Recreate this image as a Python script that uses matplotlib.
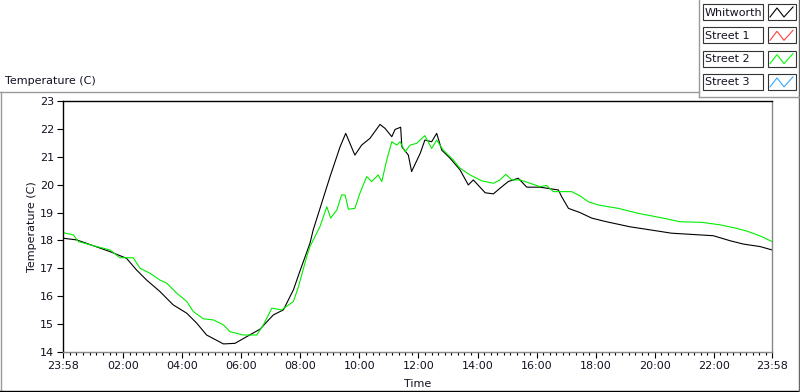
import matplotlib
matplotlib.use("Agg")
import matplotlib.pyplot as plt
from matplotlib.patches import Rectangle

# hours since 23:58
whit_t = [0, 0.46, 1.03, 1.59, 2.15, 2.49, 2.83, 3.28, 3.73, 4.19,
          4.53, 4.86, 5.43, 5.82, 6.22, 6.67, 7.12, 7.46, 7.80, 8.02,
          8.36, 8.47, 8.70, 9.04, 9.38, 9.57, 9.88, 10.11, 10.39, 10.73,
          10.90, 11.13, 11.24, 11.43, 11.47, 11.69, 11.80, 12.09, 12.25, 12.48,
          12.65, 12.82, 13.10, 13.44, 13.72, 13.89, 14.29, 14.57, 14.79, 15.07,
          15.41, 15.70, 16.15, 16.77, 16.88, 17.11, 17.50, 17.90, 18.40, 19.19,
          19.87, 20.60, 22.01, 22.58, 23.03, 23.60, 24.0]
whit_temp = [18.08, 18.02, 17.81, 17.6, 17.36, 16.94, 16.58, 16.17, 15.69, 15.39,
             15.03, 14.61, 14.29, 14.31, 14.55, 14.82, 15.33, 15.51, 16.23, 16.9,
             17.9, 18.38, 19.15, 20.29, 21.36, 21.84, 21.06, 21.42, 21.66, 22.16,
             22.02, 21.72, 21.98, 22.06, 21.36, 21.06, 20.47, 21.12, 21.6, 21.54,
             21.84, 21.24, 20.95, 20.53, 19.99, 20.17, 19.71, 19.67, 19.87, 20.11,
             20.23, 19.91, 19.91, 19.81, 19.57, 19.15, 19.0, 18.8, 18.67, 18.49,
             18.38, 18.26, 18.17, 17.99, 17.87, 17.78, 17.66]

st2_t = [0, 0.35, 0.52, 1.03, 1.59, 1.93, 2.38, 2.61, 2.95, 3.28,
         3.51, 3.85, 4.19, 4.41, 4.75, 5.09, 5.43, 5.65, 6.10, 6.56,
         6.78, 7.07, 7.40, 7.80, 7.97, 8.25, 8.36, 8.70, 8.93, 9.06,
         9.27, 9.43, 9.55, 9.66, 9.88, 10.05, 10.28, 10.45, 10.67, 10.79,
         10.96, 11.13, 11.30, 11.41, 11.58, 11.75, 11.97, 12.25, 12.48, 12.65,
         12.87, 13.21, 13.44, 13.78, 14.17, 14.57, 14.79, 14.99, 15.19, 15.47,
         15.81, 16.15, 16.37, 16.60, 17.22, 17.50, 17.78, 18.12, 18.80, 19.48,
         20.32, 20.89, 21.62, 22.24, 22.69, 23.14, 23.60, 24.0]
st2_temp = [18.28, 18.2, 17.96, 17.81, 17.66, 17.38, 17.38, 17.0, 16.82, 16.58,
            16.47, 16.11, 15.81, 15.45, 15.19, 15.15, 14.97, 14.73, 14.61, 14.61,
            14.97, 15.57, 15.51, 15.81, 16.34, 17.42, 17.78, 18.5, 19.21, 18.8,
            19.09, 19.63, 19.63, 19.12, 19.15, 19.69, 20.29, 20.11, 20.35, 20.11,
            20.89, 21.54, 21.42, 21.54, 21.18, 21.42, 21.48, 21.76, 21.3, 21.6,
            21.24, 20.89, 20.59, 20.35, 20.14, 20.05, 20.17, 20.37, 20.17, 20.17,
            20.05, 19.93, 19.97, 19.75, 19.75, 19.6, 19.39, 19.27, 19.15, 18.97,
            18.8, 18.67, 18.65, 18.56, 18.46, 18.34, 18.16, 17.96]

legend_names = ["Whitworth", "Street 1", "Street 2", "Street 3"]
legend_colors = ["black", "#ff4040", "#00ff00", "#33aaff"]

tick_pos = [0] + [2 * k + 2 / 60 for k in range(1, 12)] + [24]
tick_labels = ["23:58", "02:00", "04:00", "06:00", "08:00", "10:00", "12:00",
               "14:00", "16:00", "18:00", "20:00", "22:00", "23:58"]

W, H = 800, 392
plt.rcParams['font.family'] = 'DejaVu Sans'
plt.rcParams['font.size'] = 8
txt = '#111122'

fig = plt.figure(figsize=(W / 100, H / 100), dpi=100)

# background overlay in pixel coords
bg = fig.add_axes([0, 0, 1, 1], zorder=0)
bg.set_xlim(0, W)
bg.set_ylim(H, 0)
bg.axis('off')

# frame lines
bg.plot([0, 699], [92, 92], color='#999999', lw=1)
bg.plot([1, 1], [92, 391], color='#999999', lw=1)
bg.plot([0, 800], [391, 391], color='black', lw=1)
bg.plot([798.5, 798.5], [0, 391], color='#666666', lw=1)
bg.plot([699, 699], [0, 97], color='#999999', lw=1)
bg.plot([699, 799], [97, 97], color='#999999', lw=1)

bg.text(5, 81, "Temperature (C)", ha='left', va='center', color=txt)
bg.text(32, 227, "Temperature (C)", ha='center', va='center', rotation=90, color=txt)
bg.text(418, 384, "Time", ha='center', va='center', color=txt)

# legend
for i, (name, col) in enumerate(zip(legend_names, legend_colors)):
    top = 4 + i * 23.3
    bg.add_patch(Rectangle((702.5, top), 60, 16, fill=False, ec='#333333', lw=0.8))
    bg.text(705, top + 8.5, name, ha='left', va='center', color=txt)
    bg.add_patch(Rectangle((767.5, top), 28, 16, fill=False, ec='#333333', lw=0.8))
    zx = [770, 777, 784, 793]
    zy = [top + 13, top + 4, top + 13, top + 3]
    bg.plot(zx, zy, color=col, lw=0.8)

# plot area
l, r, t, b = 63, 772, 101, 352
ax = fig.add_axes([l / W, (H - b) / H, (r - l) / W, (b - t) / H], zorder=1)
ax.plot(whit_t, whit_temp, color='black', lw=0.8)
ax.plot(st2_t, st2_temp, color='#00ee00', lw=0.8)
ax.set_xlim(0, 24)
ax.set_ylim(14, 23)
ax.set_yticks(range(14, 24))
ax.set_xticks(tick_pos)
ax.set_xticklabels(tick_labels)
minor = []
for a, c in zip(tick_pos[:-1], tick_pos[1:]):
    minor += [a + (c - a) * j / 9 for j in range(1, 9)]
ax.set_xticks(minor, minor=True)
ax.tick_params(axis='both', which='major', direction='out', length=4, width=0.8,
               color='black', labelcolor=txt, pad=2.5)
ax.tick_params(axis='x', which='minor', direction='out', length=2.2, width=0.8, color='black')
for s in ['left', 'top']:
    ax.spines[s].set_color('black')
    ax.spines[s].set_linewidth(1)
for s in ['right', 'bottom']:
    ax.spines[s].set_color('#888888')
    ax.spines[s].set_linewidth(1)

fig.savefig("out.png", dpi=100)
